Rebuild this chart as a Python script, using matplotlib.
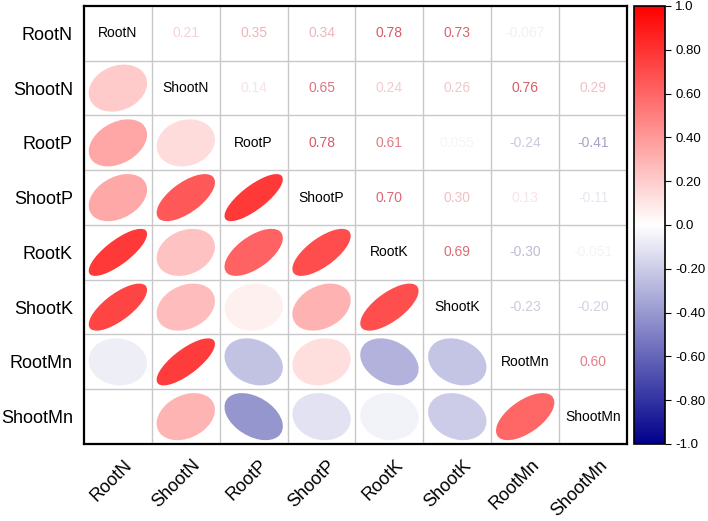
import numpy as np
import matplotlib
matplotlib.use("Agg")
import matplotlib.pyplot as plt
from matplotlib.colors import LinearSegmentedColormap, Normalize
from matplotlib.cm import ScalarMappable
from matplotlib.patches import Ellipse

plt.rcParams["font.family"] = ["Liberation Sans", "DejaVu Sans"]

labels = ["RootN", "ShootN", "RootP", "ShootP", "RootK", "ShootK", "RootMn", "ShootMn"]

# upper-triangle correlations, row by row (to the right of the diagonal)
row_rootN = [0.21, 0.35, 0.34, 0.78, 0.73, -0.067, 0.0]
row_shootN = [0.14, 0.65, 0.24, 0.26, 0.76, 0.29]
row_rootP = [0.78, 0.61, 0.055, -0.24, -0.41]
row_shootP = [0.70, 0.30, 0.13, -0.11]
row_rootK = [0.69, -0.30, -0.051]
row_shootK = [-0.23, -0.20]
row_rootMn = [0.60]
upper_rows = [row_rootN, row_shootN, row_rootP, row_shootP, row_rootK, row_shootK, row_rootMn]

cbar_ticks = [1.0, 0.8, 0.6, 0.4, 0.2, 0.0, -0.2, -0.4, -0.6, -0.8, -1.0]
cbar_labels = ["1.0", "0.80", "0.60", "0.40", "0.20", "0.0", "-0.20", "-0.40", "-0.60", "-0.80", "-1.0"]

n = len(labels)
R = np.eye(n)
for i, row in enumerate(upper_rows):
    for k, v in enumerate(row):
        R[i, i + 1 + k] = v
        R[i + 1 + k, i] = v

cmap = LinearSegmentedColormap.from_list("bwr_o", ["#00008B", "#FFFFFF", "#FF0000"])
text_cmap = LinearSegmentedColormap.from_list("bwr_t", ["#20207A", "#FFFFFF", "#CC2A3A"])
norm = Normalize(-1, 1)


def fmt(v):
    return f"{v:.2f}" if abs(v) >= 0.1 else f"{v:.2g}"


fig = plt.figure(figsize=(7.08, 5.21), dpi=100)
ax = fig.add_axes([0.1186, 0.1478, 0.767, 0.8407])
cax = fig.add_axes([0.8955, 0.1478, 0.0438, 0.8407])

ax.set_xlim(0, n)
ax.set_ylim(n, 0)
for k in range(1, n):
    ax.axvline(k, color="#c8c8c8", lw=1, zorder=0)
    ax.axhline(k, color="#c8c8c8", lw=1, zorder=0)

s = 0.86
for i in range(n):
    for j in range(n):
        r = R[i, j]
        if i == j:
            ax.text(j + 0.5, i + 0.5, labels[i], ha="center", va="center",
                    fontsize=10, color="black")
        elif i > j:
            if abs(r) < 0.01:
                continue
            ax.add_patch(Ellipse((j + 0.5, i + 0.5), s * np.sqrt(1 + r), s * np.sqrt(1 - r),
                                 angle=-45, facecolor=cmap(norm(r)), edgecolor="none"))
        else:
            if abs(r) < 0.01:
                continue
            ax.text(j + 0.5, i + 0.5, fmt(r), ha="center", va="center",
                    fontsize=10, color=text_cmap(norm(r)))

ax.set_yticks(np.arange(n) + 0.5)
ax.set_yticklabels(labels, fontsize=13)
ax.set_xticks([])
# rotated column labels below the grid
for j, lab in enumerate(labels):
    ax.text(j + 0.58, n + 0.23, lab, fontsize=13, rotation=45, ha="right", va="top",
            rotation_mode="anchor", clip_on=False)
ax.tick_params(length=0, pad=8)
for sp in ax.spines.values():
    sp.set_linewidth(1.6)

cb = fig.colorbar(ScalarMappable(norm=norm, cmap=cmap), cax=cax)
cb.set_ticks(cbar_ticks)
cb.set_ticklabels(cbar_labels)
cb.ax.tick_params(labelsize=9.5, length=4, width=0.8)
cb.outline.set_linewidth(1.2)

fig.savefig("out.png", dpi=100)
